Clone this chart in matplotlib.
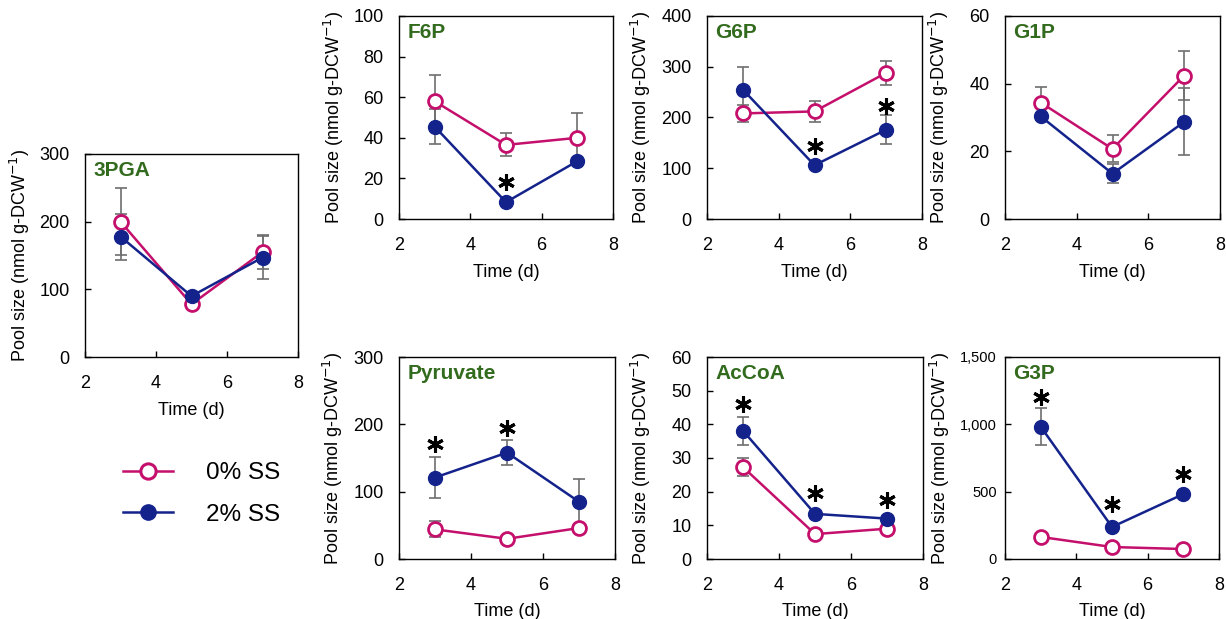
import matplotlib
matplotlib.use("Agg")
import matplotlib.pyplot as plt
from matplotlib.lines import Line2D
from matplotlib.ticker import FuncFormatter

plt.rcParams['font.family'] = ['Liberation Sans', 'DejaVu Sans']

# ---------------- data ----------------
days = [3, 5, 7]

names = ["3PGA", "F6P", "G6P", "G1P", "Pyruvate", "AcCoA", "G3P"]

ss0_3pga = [200, 78, 155];   ss0_3pga_err = [50, 5, 25]
ss2_3pga = [178, 90, 147];   ss2_3pga_err = [34, 5, 32]

ss0_f6p = [58, 36.5, 40];    ss0_f6p_err = [13, 5.7, 12]
ss2_f6p = [45.5, 8.3, 28.5]; ss2_f6p_err = [8.5, 1, 1.5]

ss0_g6p = [208, 212, 288];   ss0_g6p_err = [16, 20, 24]
ss2_g6p = [255, 106, 176];   ss2_g6p_err = [44, 4, 29]

ss0_g1p = [34.4, 20.7, 42.4]; ss0_g1p_err = [4.7, 4, 7.2]
ss2_g1p = [30.3, 13.4, 28.7]; ss2_g1p_err = [1, 2.8, 9.9]

ss0_pyr = [44, 30, 46];      ss0_pyr_err = [12, 2, 5]
ss2_pyr = [121, 158, 85];    ss2_pyr_err = [30, 19, 34]

ss0_accoa = [27.3, 7.4, 9.0]; ss0_accoa_err = [2.6, 0.5, 0.8]
ss2_accoa = [38.1, 13.4, 12.0]; ss2_accoa_err = [4.1, 1.0, 0.8]

ss0_g3p = [164, 89, 74];     ss0_g3p_err = [10, 8, 6]
ss2_g3p = [983, 238, 482];   ss2_g3p_err = [140, 15, 15]

ymax = [300, 100, 400, 60, 300, 60, 1500]
ystep = [100, 20, 100, 20, 100, 10, 500]

# significance marks (x, y)
stars_f6p = [(5, 18)]
stars_g6p = [(5, 143), (7, 222)]
stars_pyr = [(3, 171), (5, 195)]
stars_accoa = [(3, 46), (5, 19.5), (7, 17.5)]
stars_g3p = [(3, 1205), (5, 412), (7, 630)]

panels = [
    (ss0_3pga, ss0_3pga_err, ss2_3pga, ss2_3pga_err, []),
    (ss0_f6p, ss0_f6p_err, ss2_f6p, ss2_f6p_err, stars_f6p),
    (ss0_g6p, ss0_g6p_err, ss2_g6p, ss2_g6p_err, stars_g6p),
    (ss0_g1p, ss0_g1p_err, ss2_g1p, ss2_g1p_err, []),
    (ss0_pyr, ss0_pyr_err, ss2_pyr, ss2_pyr_err, stars_pyr),
    (ss0_accoa, ss0_accoa_err, ss2_accoa, ss2_accoa_err, stars_accoa),
    (ss0_g3p, ss0_g3p_err, ss2_g3p, ss2_g3p_err, stars_g3p),
]

# ---------------- style ----------------
PINK = '#c4106c'
BLUE = '#14238c'
GREEN = '#336b1e'
ERR = '#6e6e6e'

W, H = 1226, 619
fig = plt.figure(figsize=(W / 100, H / 100), dpi=100)

# axes boxes in pixels: left, top, right, bottom
boxes = [
    (85, 154, 298, 357),
    (399, 16, 613, 219),
    (707, 16, 922, 219),
    (1005, 16, 1220, 219),
    (399, 357, 615, 559),
    (707, 357, 923, 559),
    (1005, 357, 1219, 559),
]

for i, (name, box, pdata) in enumerate(zip(names, boxes, panels)):
    l, t, r, b = box
    ax = fig.add_axes([l / W, (H - b) / H, (r - l) / W, (b - t) / H])
    m0, e0, m2, e2, stars = pdata

    for m, e in ((m0, e0), (m2, e2)):
        ax.errorbar(days, m, yerr=e, fmt='none', ecolor=ERR, elinewidth=1.2,
                    capsize=4, capthick=1.2, zorder=1)
    ax.plot(days, m0, color=PINK, lw=1.8, marker='o', ms=10,
            mfc='white', mec=PINK, mew=2.0, zorder=3)
    ax.plot(days, m2, color=BLUE, lw=1.8, marker='o', ms=10,
            mfc=BLUE, mec=BLUE, zorder=4)
    for (sx, sy) in stars:
        ax.plot(sx, sy, marker=(6, 2, 0), ms=12, mew=2.2, color='black',
                ls='none', zorder=5)

    ax.set_xlim(2, 8)
    ax.set_xticks([2, 4, 6, 8])
    ax.set_ylim(0, ymax[i])
    ax.set_yticks(list(range(0, ymax[i] + 1, ystep[i])))
    ax.tick_params(direction='in', length=4, width=1, labelsize=13)
    ax.tick_params(axis='x', pad=13)
    ax.tick_params(axis='y', pad=11)
    if name == 'G3P':
        ax.yaxis.set_major_formatter(FuncFormatter(lambda v, p: f"{int(v):,}"))
        ax.tick_params(axis='y', labelsize=10.5, pad=6)
    for s in ax.spines.values():
        s.set_linewidth(1.0)

    ax.set_xlabel("Time (d)", fontsize=13)
    ax.xaxis.set_label_coords(0.5, -0.22)
    ax.set_ylabel("Pool size (nmol g-DCW$^{-1}$)", fontsize=13)
    ax.yaxis.set_label_coords(-0.25, 0.5)
    ax.text(0.04, 0.92, name, transform=ax.transAxes, color=GREEN,
            fontsize=15, fontweight='bold', ha='left', va='center')

handles = [
    Line2D([], [], color=PINK, lw=1.8, marker='o', ms=11, mfc='white',
           mec=PINK, mew=2.2),
    Line2D([], [], color=BLUE, lw=1.8, marker='o', ms=11, mfc=BLUE, mec=BLUE),
]
fig.legend(handles, ["0% SS", "2% SS"], loc='center',
           bbox_to_anchor=(202 / W, (H - 494) / H), frameon=False,
           fontsize=17.5, handlelength=2.06, handletextpad=1.36,
           labelspacing=0.8)

fig.savefig("out.png", dpi=100)
